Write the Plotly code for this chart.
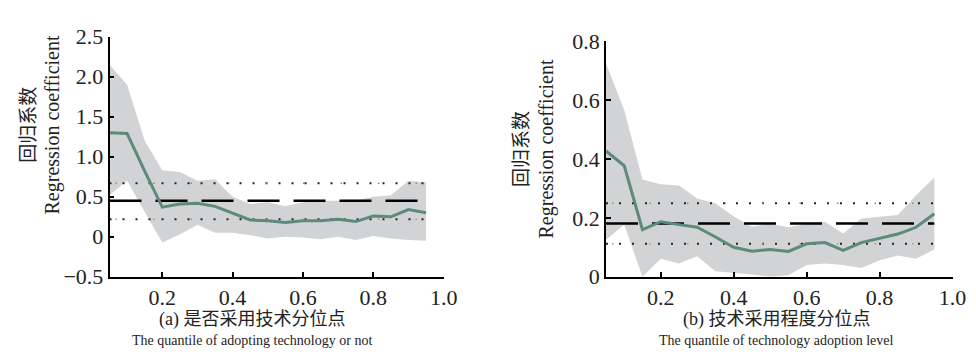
import plotly.graph_objects as go

quantiles = [0.05, 0.10, 0.15, 0.20, 0.25, 0.30, 0.35, 0.40, 0.45, 0.50,
             0.55, 0.60, 0.65, 0.70, 0.75, 0.80, 0.85, 0.90, 0.95]

# Panel (a): adopting technology or not
a_coef = [1.30, 1.29, 0.82, 0.37, 0.41, 0.42, 0.38, 0.29, 0.21, 0.20,
          0.18, 0.20, 0.20, 0.22, 0.19, 0.26, 0.25, 0.34, 0.30]
a_upper = [2.15, 1.90, 1.20, 0.83, 0.81, 0.70, 0.72, 0.50, 0.41, 0.43,
           0.38, 0.43, 0.45, 0.45, 0.45, 0.50, 0.52, 0.70, 0.68]
a_lower = [0.52, 0.70, 0.31, -0.07, 0.03, 0.15, 0.05, 0.05, 0.02, -0.02,
           0.00, -0.01, -0.03, 0.00, -0.04, 0.01, -0.02, -0.04, -0.05]
a_ols = 0.45
a_ols_upper = 0.67
a_ols_lower = 0.22

# Panel (b): technology adoption level
b_coef = [0.427, 0.377, 0.160, 0.187, 0.177, 0.168, 0.135, 0.100, 0.087, 0.093,
          0.086, 0.112, 0.116, 0.090, 0.116, 0.130, 0.145, 0.168, 0.214]
b_upper = [0.724, 0.566, 0.330, 0.314, 0.310, 0.266, 0.250, 0.205, 0.170, 0.180,
           0.168, 0.180, 0.187, 0.147, 0.198, 0.203, 0.210, 0.277, 0.337]
b_lower = [0.126, 0.177, 0.000, 0.061, 0.045, 0.070, 0.019, 0.014, 0.008, 0.000,
           0.005, 0.040, 0.045, 0.040, 0.030, 0.056, 0.072, 0.061, 0.093]
b_ols = 0.181
b_ols_upper = 0.25
b_ols_lower = 0.112

x_ticks = [0.2, 0.4, 0.6, 0.8, 1.0]
x_ticktext = ["0.2", "0.4", "0.6", "0.8", "1.0"]
a_yticks = [-0.5, 0, 0.5, 1.0, 1.5, 2.0, 2.5]
a_yticktext = ["\u22120.5", "0", "0.5", "1.0", "1.5", "2.0", "2.5"]
b_yticks = [0, 0.2, 0.4, 0.6, 0.8]
b_yticktext = ["0", "0.2", "0.4", "0.6", "0.8"]

caption_a = ["(a) 是否采用技术分位点", "The quantile of adopting technology or not"]
caption_b = ["(b) 技术采用程度分位点", "The quantile of technology adoption level"]
ylabel = ["回归系数", "Regression coefficient"]

FONT = "Liberation Serif"
CJK = "Noto Sans CJK SC"
BAND = "#d2d3d5"
GREEN = "#5d8b7b"
TXT = "#222222"

fig = go.Figure()


def add_panel(xa, ya, coef, upper, lower, ols, ols_u, ols_l):
    xmin, xmax = quantiles[0], quantiles[-1]
    fig.add_trace(go.Scatter(x=quantiles, y=upper, mode="lines", line=dict(width=0, color=BAND),
                             xaxis=xa, yaxis=ya, showlegend=False, hoverinfo="skip"))
    fig.add_trace(go.Scatter(x=quantiles, y=lower, mode="lines", line=dict(width=0, color=BAND),
                             fill="tonexty", fillcolor=BAND,
                             xaxis=xa, yaxis=ya, showlegend=False, hoverinfo="skip"))
    # OLS confidence bounds (dotted)
    for val, col in [(ols_u, "#7a9a4a"), (ols_l, "#e08a3a")]:
        fig.add_trace(go.Scatter(x=[xmin, xmax], y=[val, val], mode="lines",
                                 line=dict(color="#222222", width=2, dash="2px,11px"),
                                 xaxis=xa, yaxis=ya, showlegend=False, hoverinfo="skip"))
        fig.add_trace(go.Scatter(x=[xmin, xmax], y=[val, val], mode="lines",
                                 line=dict(color=col, width=1.5, dash="0px,6px,1.5px,30px"),
                                 xaxis=xa, yaxis=ya, showlegend=False, hoverinfo="skip"))
    # OLS estimate (dashed)
    fig.add_trace(go.Scatter(x=[xmin, xmax], y=[ols, ols], mode="lines",
                             line=dict(color="#000000", width=2.5, dash="32px,14px"),
                             xaxis=xa, yaxis=ya, showlegend=False, hoverinfo="skip"))
    # quantile coefficient
    fig.add_trace(go.Scatter(x=quantiles, y=coef, mode="lines",
                             line=dict(color=GREEN, width=3),
                             xaxis=xa, yaxis=ya, showlegend=False))


add_panel("x", "y", a_coef, a_upper, a_lower, a_ols, a_ols_upper, a_ols_lower)
add_panel("x2", "y2", b_coef, b_upper, b_lower, b_ols, b_ols_upper, b_ols_lower)

W, H = 976, 359
axis_common = dict(showline=True, linecolor="#000000", linewidth=1.5, ticks="inside",
                   ticklen=5, tickwidth=1.5, tickcolor="#000000", showgrid=False,
                   zeroline=False, tickfont=dict(family=FONT, size=22, color=TXT))

fig.update_layout(
    width=W, height=H, margin=dict(l=0, r=0, t=0, b=0),
    paper_bgcolor="white", plot_bgcolor="white",
    font=dict(family=FONT, color=TXT),
    xaxis=dict(domain=[103 / W, 442 / W], range=[0.05, 1.0], anchor="y",
               tickvals=x_ticks, ticktext=x_ticktext, **axis_common),
    yaxis=dict(domain=[1 - 276 / H, 1 - 18 / H], range=[-0.5, 2.5], anchor="x",
               tickvals=a_yticks, ticktext=a_yticktext, **axis_common),
    xaxis2=dict(domain=[606.7 / W, 958.3 / W], range=[0.05, 1.0], anchor="y2",
                tickvals=x_ticks, ticktext=x_ticktext, **axis_common),
    yaxis2=dict(domain=[1 - 276 / H, 1 - 22.7 / H], range=[0, 0.8], anchor="x2",
                tickvals=b_yticks, ticktext=b_yticktext, **axis_common),
)

annotations = []
for cx, cap in [(248, caption_a), (780, caption_b)]:
    annotations.append(dict(x=cx / W, y=1 - 322 / H, xref="paper", yref="paper",
                            text=cap[0], showarrow=False, xanchor="center", yanchor="middle",
                            font=dict(family=FONT + ", " + CJK, size=18, color=TXT)))
    annotations.append(dict(x=cx / W, y=1 - 344 / H, xref="paper", yref="paper",
                            text=cap[1], showarrow=False, xanchor="center", yanchor="middle",
                            font=dict(family=FONT, size=14, color=TXT)))
for x1, x2, cy in [(18, 45, 113), (519, 546, 139)]:
    annotations.append(dict(x=x1 / W, y=1 - cy / H, xref="paper", yref="paper",
                            text=ylabel[0], showarrow=False, textangle=-90,
                            xanchor="center", yanchor="middle",
                            font=dict(family=CJK, size=19, color=TXT)))
    annotations.append(dict(x=x2 / W, y=1 - cy / H, xref="paper", yref="paper",
                            text=ylabel[1], showarrow=False, textangle=-90,
                            xanchor="center", yanchor="middle",
                            font=dict(family=FONT, size=20, color=TXT)))
fig.update_layout(annotations=annotations)

fig.write_html("out.html")
